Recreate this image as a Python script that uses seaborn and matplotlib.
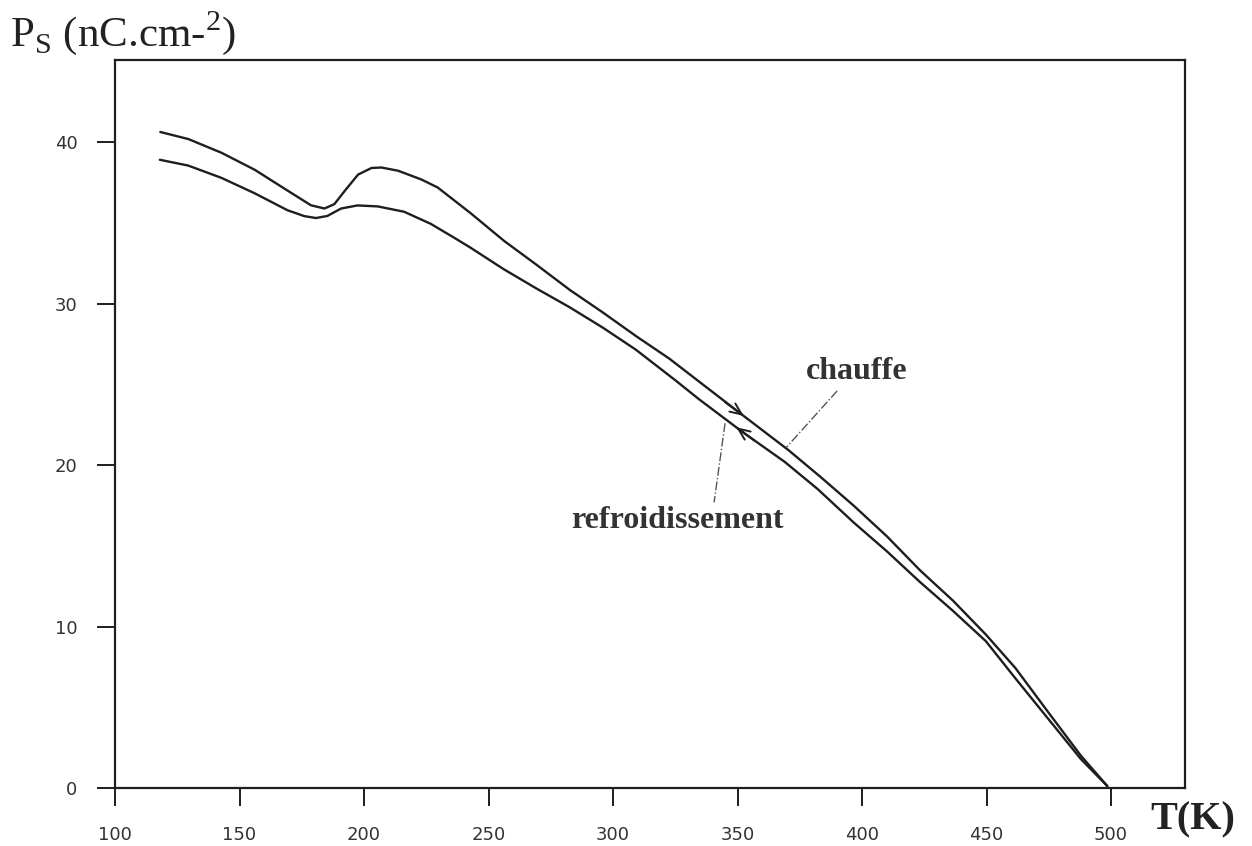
import numpy as np
import pandas as pd
import matplotlib
matplotlib.use('Agg')
import matplotlib.pyplot as plt
import seaborn as sns

# 数据:自发极化 Ps 随温度 T 的变化(读图估值)
T_chauffe = [118.2, 129.5, 142.8, 156.1, 169.4, 178.7, 184.1, 188.1, 192.2, 197.6,
             203.0, 207.0, 213.7, 223.0, 229.6, 242.9, 256.2, 269.4, 282.7, 296.0,
             309.2, 322.6, 335.8, 351.7, 370.3, 383.5, 396.8, 410.0, 423.2, 436.5,
             449.7, 461.6, 474.7, 487.9, 498.5]
Ps_chauffe = [40.64, 40.20, 39.35, 38.30, 37.00, 36.10, 35.90, 36.17, 36.98, 38.00,
              38.41, 38.44, 38.24, 37.70, 37.20, 35.60, 33.90, 32.40, 30.85, 29.45,
              28.00, 26.60, 25.03, 23.14, 20.95, 19.25, 17.47, 15.59, 13.50, 11.61,
              9.51, 7.43, 4.71, 2.00, 0.12]

T_refroid = [118.0, 129.4, 142.7, 156.0, 169.3, 176.0, 180.7, 185.3, 190.8, 197.4,
             205.5, 216.1, 226.8, 236.1, 242.8, 256.0, 269.3, 282.6, 295.9, 309.2,
             325.1, 334.4, 351.6, 368.9, 382.1, 396.7, 410.0, 423.2, 436.4, 449.7,
             461.5, 474.7, 487.9, 498.5]
Ps_refroid = [38.92, 38.56, 37.80, 36.85, 35.79, 35.43, 35.31, 35.44, 35.90, 36.09,
              36.03, 35.70, 34.95, 34.10, 33.47, 32.15, 30.94, 29.78, 28.52, 27.15,
              25.25, 24.10, 22.10, 20.21, 18.53, 16.44, 14.66, 12.77, 10.99, 9.10,
              6.81, 4.30, 1.79, 0.12]

x_ticks = [100, 150, 200, 250, 300, 350, 400, 450, 500]
y_ticks = [0, 10, 20, 30, 40]

df_c = pd.DataFrame({'T': T_chauffe, 'Ps': Ps_chauffe})
df_r = pd.DataFrame({'T': T_refroid, 'Ps': Ps_refroid})

sns.set_theme(style='white')
plt.rcParams['mathtext.fontset'] = 'custom'
plt.rcParams['mathtext.rm'] = 'Liberation Serif'

ink = '#1e1e1e'
fig = plt.figure(figsize=(12.52, 8.46), dpi=100)
ax = fig.add_axes([115 / 1252, 58 / 846, 1070 / 1252, 728 / 846])

sns.lineplot(data=df_c, x='T', y='Ps', sort=False, color=ink, linewidth=1.7, ax=ax)
sns.lineplot(data=df_r, x='T', y='Ps', sort=False, color=ink, linewidth=1.7, ax=ax)
for ln in ax.lines:
    ln.set_solid_joinstyle('round')

# 方向箭头
arrow_kw = dict(arrowstyle='->,head_length=0.7,head_width=0.3', color=ink, lw=1.4,
                shrinkA=0, shrinkB=0)
ax.annotate('', xy=(352.5, 23.05), xytext=(345.0, 23.9), arrowprops=arrow_kw)
ax.annotate('', xy=(349.5, 22.35), xytext=(357.0, 21.5), arrowprops=arrow_kw)

# 标注文字和引线
ax.plot([390, 369.6], [24.6, 21.1], color='#555555', lw=1.0, linestyle='-.')
ax.plot([345, 340.6], [22.6, 17.7], color='#555555', lw=1.0, linestyle='-.')
ax.text(398, 25.8, 'chauffe', family='Liberation Serif', fontweight='bold',
        fontsize=23, color='#333333', ha='center', va='center')
ax.text(325.7, 16.6, 'refroidissement', family='Liberation Serif', fontweight='bold',
        fontsize=23, color='#333333', ha='center', va='center')

ax.set_xlim(100, 529.7)
ax.set_ylim(0, 45.1)
ax.set_xticks(x_ticks)
ax.set_yticks(y_ticks)
ax.set_xlabel('')
ax.set_ylabel('')
for s in ax.spines.values():
    s.set_visible(True)
    s.set_color(ink)
    s.set_linewidth(1.6)
ax.tick_params(axis='both', direction='out', length=13, width=1.4, color=ink,
               labelsize=13, labelcolor='#333333', bottom=True, left=True)
ax.tick_params(axis='x', pad=14)
ax.tick_params(axis='y', pad=14)

fig.text(10 / 1252, 1 - 46 / 846, r'P$_{\mathrm{S}}$ (nC.cm-$^{\mathrm{2}}$)',
         family='Liberation Serif', fontsize=31, color='#222222', va='baseline', ha='left')
fig.text(1150 / 1252, 1 - 829 / 846, 'T(K)', family='Liberation Serif', fontweight='bold',
         fontsize=29, color='#222222', va='baseline', ha='left')

fig.savefig('out.png', dpi=100)
